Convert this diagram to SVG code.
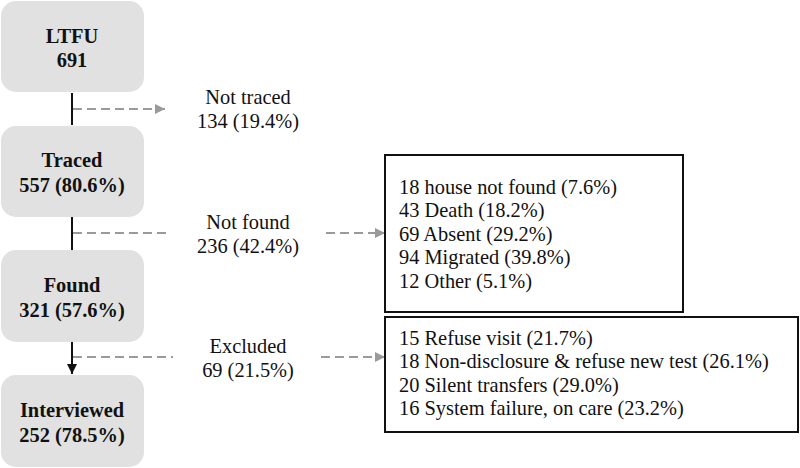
<svg xmlns="http://www.w3.org/2000/svg" width="800" height="468" viewBox="0 0 800 468">
<defs>
<style>
.node rect{fill:#e1e1e1;stroke:none}
.nt{font-family:"Times New Roman","Liberation Serif",serif;font-size:20.4px;font-weight:bold;fill:#111;text-anchor:middle}
.lbl{font-family:"Times New Roman","Liberation Serif",serif;font-size:20.4px;fill:#111;text-anchor:middle}
.bt{font-family:"Times New Roman","Liberation Serif",serif;font-size:20.4px;fill:#111}
.solid{stroke:#111;stroke-width:2;fill:none}
.dash{stroke:#9a9a9a;stroke-width:2;stroke-dasharray:9 5;fill:none}
.box rect{fill:#fff;stroke:#111;stroke-width:2}
</style>
<marker id="ga" viewBox="0 0 10 10" refX="10" refY="5" markerWidth="10" markerHeight="10" markerUnits="userSpaceOnUse" orient="auto"><path d="M0,0 L10,5 L0,10 Z" fill="#9a9a9a"/></marker>
<marker id="ba" viewBox="0 0 10 10" refX="10" refY="5" markerWidth="10" markerHeight="10" markerUnits="userSpaceOnUse" orient="auto"><path d="M0,0 L10,5 L0,10 Z" fill="#111"/></marker>
</defs>
<rect width="800" height="468" fill="#fff"/>
<g id="connectors">
<line class="solid" x1="72" y1="93" x2="72" y2="125"/>
<line class="solid" x1="72" y1="217" x2="72" y2="250"/>
<line class="solid" x1="72" y1="342" x2="72" y2="374" marker-end="url(#ba)"/>
<line class="dash" x1="73" y1="109" x2="165" y2="109" marker-end="url(#ga)"/>
<line class="dash" x1="73" y1="233" x2="166" y2="233"/>
<line class="dash" x1="326" y1="233" x2="385" y2="233" marker-end="url(#ga)"/>
<line class="dash" x1="73" y1="357" x2="173" y2="357"/>
<line class="dash" x1="321" y1="357" x2="385" y2="357" marker-end="url(#ga)"/>
</g>
<g id="ltfu" class="node"><rect x="1" y="1" width="143" height="91" rx="15"/><text class="nt" x="72" y="43">LTFU</text><text class="nt" x="72" y="67">691</text></g>
<g id="traced" class="node"><rect x="1" y="126" width="143" height="91" rx="15"/><text class="nt" x="72" y="167">Traced</text><text class="nt" x="72" y="192">557 (80.6%)</text></g>
<g id="found" class="node"><rect x="1" y="250" width="143" height="92" rx="15"/><text class="nt" x="72" y="292">Found</text><text class="nt" x="72" y="317">321 (57.6%)</text></g>
<g id="interviewed" class="node"><rect x="1" y="375" width="143" height="92" rx="15"/><text class="nt" x="72" y="417">Interviewed</text><text class="nt" x="72" y="442">252 (78.5%)</text></g>
<g id="not-traced"><text class="lbl" x="248" y="104">Not traced</text><text class="lbl" x="248" y="128">134 (19.4%)</text></g>
<g id="not-found"><text class="lbl" x="248" y="229">Not found</text><text class="lbl" x="248" y="253">236 (42.4%)</text></g>
<g id="excluded"><text class="lbl" x="248" y="353">Excluded</text><text class="lbl" x="248" y="377">69 (21.5%)</text></g>
<g id="not-found-reasons" class="box"><rect x="385" y="155" width="298" height="157"/>
<text class="bt" x="399" y="194">18 house not found (7.6%)</text>
<text class="bt" x="399" y="217">43 Death (18.2%)</text>
<text class="bt" x="399" y="241">69 Absent (29.2%)</text>
<text class="bt" x="399" y="264">94 Migrated (39.8%)</text>
<text class="bt" x="399" y="288">12 Other (5.1%)</text></g>
<g id="excluded-reasons" class="box"><rect x="385" y="317" width="413" height="115"/>
<text class="bt" x="399" y="345">15 Refuse visit (21.7%)</text>
<text class="bt" x="399" y="368">18 Non-disclosure &amp; refuse new test (26.1%)</text>
<text class="bt" x="399" y="392">20 Silent transfers (29.0%)</text>
<text class="bt" x="399" y="415">16 System failure, on care (23.2%)</text></g>
</svg>
